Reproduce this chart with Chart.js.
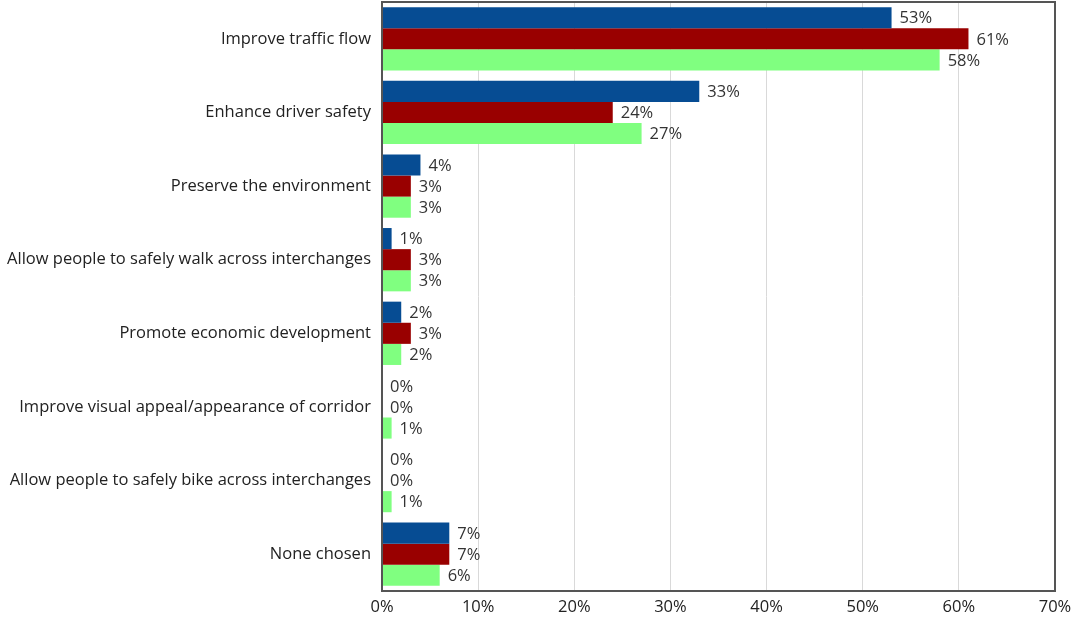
<!DOCTYPE html>
<html><head><meta charset="utf-8">
<script src="https://cdn.jsdelivr.net/npm/chart.js@4"></script>
<style>html,body{margin:0;padding:0;background:#fff}#wrap{width:1071px;height:624px}</style>
</head><body><div id="wrap"><canvas id="c"></canvas></div>
<script>
const categories = ["Improve traffic flow","Enhance driver safety","Preserve the environment","Allow people to safely walk across interchanges","Promote economic development","Improve visual appeal/appearance of corridor","Allow people to safely bike across interchanges","None chosen"];
const seriesA = [53,33,4,1,2,0,0,7];
const seriesB = [61,24,3,3,3,0,0,7];
const seriesC = [58,27,3,3,2,1,1,6];
const xTicks = [0,10,20,30,40,50,60,70];
const FONT = "'Open Sans', sans-serif";

const labelPlugin = {
  id:'vals',
  afterDatasetsDraw(chart){
    const ctx = chart.ctx;
    ctx.save();
    ctx.font = "16.5px " + FONT;
    ctx.fillStyle = "#333";
    ctx.textBaseline = "middle";
    ctx.textAlign = "left";
    chart.data.datasets.forEach((ds,i)=>{
      chart.getDatasetMeta(i).data.forEach((el,j)=>{
        ctx.fillText(ds.data[j] + "%", el.x + 8, el.y + 1);
      });
    });
    ctx.restore();
  }
};
const boxPlugin = {
  id:'box',
  afterDraw(chart){
    const a = chart.chartArea, ctx = chart.ctx;
    ctx.save();
    ctx.strokeStyle = "#555";
    ctx.lineWidth = 2;
    ctx.strokeRect(a.left, a.top, a.right - a.left, a.bottom - a.top);
    ctx.restore();
  }
};

new Chart(document.getElementById('c'), {
  type:'bar',
  data:{
    labels:categories,
    datasets:[
      {data:seriesA, backgroundColor:"#064C93"},
      {data:seriesB, backgroundColor:"#990000"},
      {data:seriesC, backgroundColor:"#80FF80"}
    ]
  },
  options:{
    indexAxis:'y',
    responsive:true, maintainAspectRatio:false, animation:false,
    layout:{padding:{top:2,right:16,left:0,bottom:0}},
    datasets:{bar:{categoryPercentage:0.86, barPercentage:1.0}},
    plugins:{legend:{display:false}, tooltip:{enabled:false}},
    scales:{
      x:{
        min:0, max:70,
        afterBuildTicks(s){ s.ticks = xTicks.map(v=>({value:v})); },
        afterFit(s){ s.height = 33; s.paddingLeft = 0; s.paddingRight = 0; },
        grid:{color:"#d9d9d9", drawTicks:false, lineWidth:1},
        border:{display:false},
        ticks:{callback:v=>v+"%", color:"#222", font:{family:FONT,size:16.5}, padding:6, maxRotation:0}
      },
      y:{
        afterFit(s){ s.width = 382; s.paddingTop = 0; s.paddingBottom = 0; },
        grid:{display:false, drawTicks:false},
        border:{display:false},
        ticks:{color:"#222", font:{family:FONT,size:16.5}, padding:11}
      }
    }
  },
  plugins:[labelPlugin, boxPlugin]
});
</script></body></html>
